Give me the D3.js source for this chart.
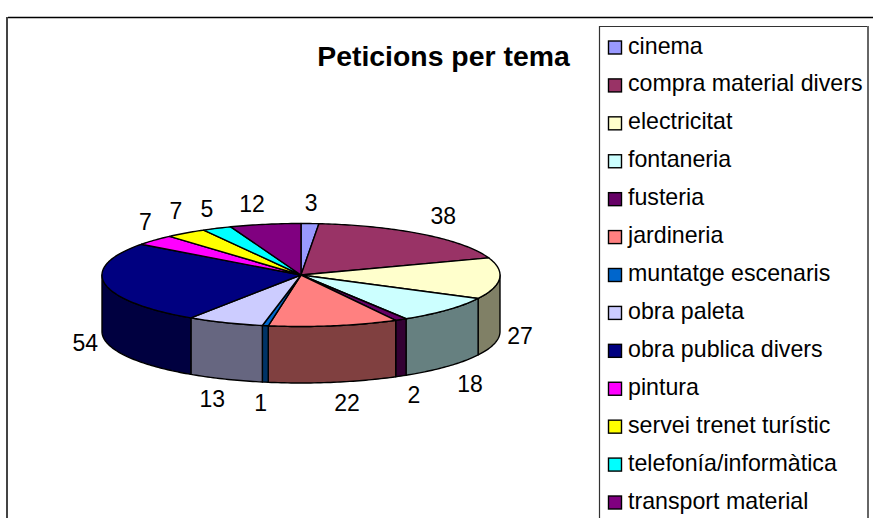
<!DOCTYPE html>
<html><head><meta charset="utf-8">
<script src="https://cdn.jsdelivr.net/npm/d3@7"></script>
<style>html,body{margin:0;padding:0;background:#fff}svg{display:block}text{font-family:"Liberation Sans",Arial,sans-serif;fill:#000}</style>
</head><body><svg id="c" width="873" height="518"></svg>
<script>
const categories=["cinema","compra material divers","electricitat","fontaneria","fusteria","jardineria","muntatge escenaris","obra paleta","obra publica divers","pintura","servei trenet turístic","telefonía/informàtica","transport material"];
const values=[3,38,27,18,2,22,1,13,54,7,7,5,12];
const colors=["#9999ff","#993366","#ffffcc","#ccffff","#660066","#ff8080","#0066cc","#ccccff","#000080","#ff00ff","#ffff00","#00ffff","#800080"];
const labelShiftX=[0,4,-5.5,3.5,0,9,0,-3,6,10,5,1,-8.5];
const labelShiftY=[3,0,1,3,0,-1,-1,0,0,-2,-3,2,3];

const svg=d3.select("#c");
const cx=301,cy=275,rx=199,ry=51.5,depth=56.5,labelDrop=55,lrx=225,lry=75;
const sx=d3.scaleLinear().domain([-1,1]).range([cx-rx,cx+rx]);
const sy=d3.scaleLinear().domain([-1,1]).range([cy+ry,cy-ry]);
const pt=(a,dy=0)=>[sx(Math.sin(a)),sy(Math.cos(a))+dy];
const line=d3.line();
const arcs=d3.pie().sort(null).value(d=>d)(values);
const arcPts=(a0,a1,dy=0)=>{const n=Math.max(2,Math.ceil((a1-a0)*60));return d3.range(n+1).map(i=>pt(a0+(a1-a0)*i/n,dy));};

// frame
svg.append("path").attr("d","M873,17.5H8").attr("fill","none").attr("stroke","#000").attr("stroke-width",1.3);
svg.append("line").attr("x1",7).attr("x2",7).attr("y1",17).attr("y2",518).attr("stroke","#444").attr("stroke-width",2);

// title
svg.append("text").attr("x",443.5).attr("y",66).attr("text-anchor","middle").attr("font-size",28.4).attr("font-weight","bold").text("Peticions per tema");

// side walls
const lo=Math.PI/2,hi=3*Math.PI/2;
arcs.forEach((d,i)=>{
  const a0=Math.max(d.startAngle,lo),a1=Math.min(d.endAngle,hi);
  if(a1<=a0)return;
  const pts=arcPts(a0,a1).concat(arcPts(a0,a1,depth).reverse());
  const c=d3.rgb(colors[i]);
  svg.append("path").attr("d",line(pts)+"Z")
    .attr("fill",d3.rgb(c.r/2,c.g/2,c.b/2))
    .attr("stroke","#000").attr("stroke-width",1.4).attr("stroke-linejoin","round");
});
// top faces
arcs.forEach((d,i)=>{
  const pts=[[cx,cy]].concat(arcPts(d.startAngle,d.endAngle));
  svg.append("path").attr("d",line(pts)+"Z").attr("fill",colors[i])
    .attr("stroke","#000").attr("stroke-width",1.4).attr("stroke-linejoin","round");
});
// value labels
arcs.forEach((d,i)=>{
  const m=(d.startAngle+d.endAngle)/2;
  const x=cx+lrx*Math.sin(m)+labelShiftX[i], y=cy-lry*Math.cos(m)+(Math.cos(m)<0.05?labelDrop:0)+labelShiftY[i];
  svg.append("text").attr("x",x).attr("y",y+8).attr("text-anchor","middle").attr("font-size",23).text(d.value);
});

// legend
svg.append("path").attr("d","M599.5,518V26.5H867").attr("fill","none").attr("stroke","#333").attr("stroke-width",1.2);
svg.append("line").attr("x1",868).attr("x2",868).attr("y1",26).attr("y2",518).attr("stroke","#666").attr("stroke-width",2);
const rowY=d3.scalePoint().domain(categories).range([46,501]);
categories.forEach((c,i)=>{
  const y=rowY(c)+1.5;
  svg.append("rect").attr("x",608.5).attr("y",y-6.5).attr("width",13).attr("height",13).attr("fill",colors[i]).attr("stroke","#000").attr("stroke-width",1.4);
  svg.append("text").attr("x",628).attr("y",rowY(c)+7.5).attr("font-size",23.2).text(c);
});
</script></body></html>
